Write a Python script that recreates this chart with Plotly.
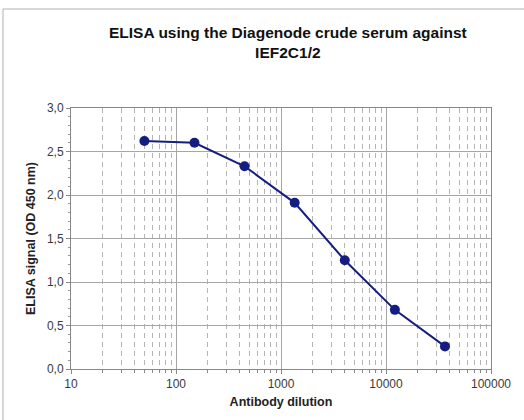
import plotly.graph_objects as go

dilution = [50, 150, 450, 1350, 4050, 12150, 36450]
signal = [2.62, 2.60, 2.33, 1.91, 1.25, 0.68, 0.26]
x_tickvals = [10, 100, 1000, 10000, 100000]
x_ticktext = ["10", "100", "1000", "10000", "100000"]
y_tickvals = [0, 0.5, 1.0, 1.5, 2.0, 2.5, 3.0]
y_ticktext = ["0,0", "0,5", "1,0", "1,5", "2,0", "2,5", "3,0"]

W, H = 524, 420
L, R, T, B = 71, 33, 108, 51
PW, PH = W - L - R, H - T - B

fig = go.Figure()
fig.add_trace(go.Scatter(
    x=dilution, y=signal, mode="lines+markers",
    line=dict(color="#141e80", width=2),
    marker=dict(color="#141e80", size=10),
    showlegend=False,
))

font = "Liberation Sans, Arial, sans-serif"
fig.update_layout(
    width=W, height=H,
    margin=dict(l=L, r=R, t=T, b=B),
    paper_bgcolor="white", plot_bgcolor="white",
    font=dict(family=font, size=12, color="#3a3a3a"),
    separators=",.",
    xaxis=dict(
        type="log", range=[1, 5],
        tickvals=x_tickvals, ticktext=x_ticktext,
        showgrid=True, gridcolor="#a6a6a6", gridwidth=1,
        showline=True, linecolor="#888888", linewidth=1, mirror=True,
        ticks="outside", ticklen=4, tickcolor="#888888",
        minor=dict(dtick="D1", showgrid=True, gridcolor="#b4b4b4",
                   griddash="5px,4px", ticks="outside", ticklen=3, tickcolor="#888888"),
        title=dict(text="<b>Antibody dilution</b>", font=dict(size=12.5, color="#222222"), standoff=6),
        zeroline=False,
    ),
    yaxis=dict(
        range=[0, 3.0],
        tickvals=y_tickvals, ticktext=y_ticktext,
        showgrid=True, gridcolor="#a6a6a6", gridwidth=1,
        showline=True, linecolor="#888888", linewidth=1, mirror=True,
        ticks="outside", ticklen=4, tickcolor="#888888",
        minor=dict(dtick=0.1, ticks="outside", ticklen=2, tickcolor="#999999", showgrid=False),
        title=dict(text="<b>ELISA signal (OD 450 nm)</b>", font=dict(size=12.5, color="#222222"), standoff=8),
        zeroline=False,
    ),
    annotations=[dict(
        text="<b>ELISA using the Diagenode crude serum against<br>IEF2C1/2</b>",
        x=(288 - L) / PW, y=1 + (T - 22) / PH, xref="paper", yref="paper",
        xanchor="center", yanchor="top", showarrow=False,
        font=dict(size=15.5, color="#111111", family=font),
    )],
    shapes=[dict(
        type="rect", xref="paper", yref="paper",
        x0=(3 - L) / PW, x1=(W + 5 - L) / PW,
        y0=-(B + 5) / PH, y1=1 + (T - 9) / PH,
        line=dict(color="#b0b0b0", width=1), layer="below",
    )],
)

fig.write_html("out.html", config={"displayModeBar": False},
               post_script="document.body.style.margin='0';document.body.style.padding='0';")
